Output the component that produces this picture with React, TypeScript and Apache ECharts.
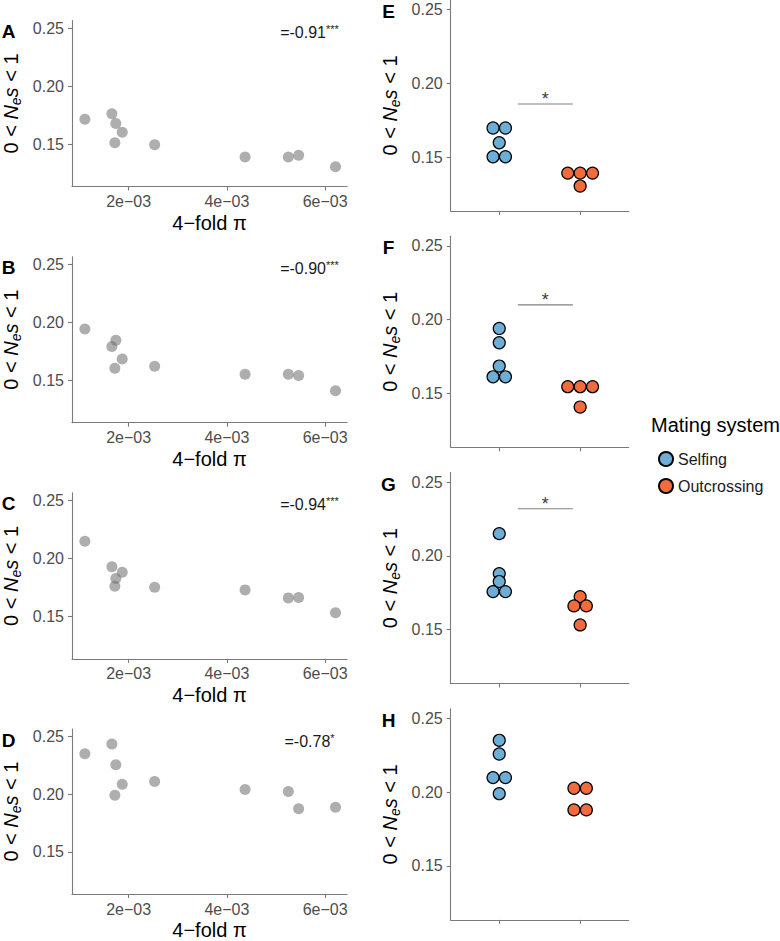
import React, { useEffect, useRef } from 'react';
import * as echarts from 'echarts';

// ---------- data ----------
const piValues = [1.11e-3, 1.66e-3, 1.74e-3, 1.87e-3, 1.72e-3, 2.53e-3, 4.37e-3, 5.25e-3, 5.46e-3, 6.21e-3];
const nesA = [0.1713, 0.1761, 0.1678, 0.1601, 0.1511, 0.1494, 0.1388, 0.1388, 0.1403, 0.1304];
const nesB = [0.1942, 0.179, 0.1845, 0.1684, 0.1603, 0.1621, 0.1552, 0.1552, 0.154, 0.141];
const nesC = [0.2149, 0.1929, 0.1828, 0.188, 0.176, 0.1751, 0.1729, 0.166, 0.1663, 0.1532];
const nesD = [0.2352, 0.2435, 0.2255, 0.2086, 0.1991, 0.2111, 0.204, 0.2023, 0.1874, 0.1886];
const rhoLabels = ['-0.91', '-0.90', '-0.94', '-0.78'];
const rhoStars = ['***', '***', '***', '*'];
const leftTags = ['A', 'B', 'C', 'D'];

const selfingE = [0.1697, 0.1697, 0.1597, 0.1502, 0.1502];
const outcrossE = [0.1391, 0.1391, 0.1391, 0.1303];
const selfingF = [0.194, 0.1843, 0.1685, 0.1612, 0.1612];
const outcrossF = [0.1545, 0.1545, 0.1545, 0.1407];
const selfingG = [0.2151, 0.188, 0.1826, 0.1758, 0.1758];
const outcrossG = [0.1724, 0.1661, 0.1661, 0.1532];
const selfingH = [0.2352, 0.2259, 0.2099, 0.2099, 0.199];
const outcrossH = [0.2027, 0.2027, 0.188, 0.188];
const rightTags = ['E', 'F', 'G', 'H'];
const sigHeights = [0.186, 0.21, 0.232, null];
const sigLabels = ['*', '*', '*', ''];
const sigSpan = [1.23, 1.91];

const yTicks = [0.15, 0.2, 0.25];
const xTicks = [0.002, 0.004, 0.006];
const groupNames = ['Selfing', 'Outcrossing'];
const groupColors = ['#6CAED6', '#F26B3C'];

// ---------- layout ----------
const FONT = 'Liberation Sans, Arial, Helvetica, sans-serif';
const Y_MIN = 0.1134;
const Y_MAX = 0.2565;
const X_MIN = 0.848e-3;
const X_MAX = 6.444e-3;
const L_LEFT = 70, L_W = 277, L_TOP0 = 20.5, L_H = 166, L_STEP = 236.2;
const R_LEFT = 450.7, R_W = 178, R_TOP0 = 0, R_H = 211, R_STEP = 236.3;
const DOT_D = 12.4;
const AXIS_COLOR = '#7a7a7a';
const TICK_TEXT = '#4d4d4d';

const fmtSci = (v: number) => {
  const [m, e] = v.toExponential(0).split('e');
  const n = Math.abs(parseInt(e, 10));
  return m + 'e' + (e[0] === '-' ? '\u2212' : '+') + String(n).padStart(2, '0');
};

const yName = '{n|0 < }{i|N}{sub|e}{i|s}{n| < 1}';
const yNameStyle = {
  rich: {
    n: { fontSize: 20, fontFamily: FONT, color: '#000', lineHeight: 24 },
    i: { fontSize: 20, fontFamily: FONT, fontStyle: 'italic', color: '#000', lineHeight: 24 },
    sub: { fontSize: 14, fontFamily: FONT, fontStyle: 'italic', color: '#000', lineHeight: 12, verticalAlign: 'bottom' },
  },
};

function stackItems(vals: number[], cat: number) {
  const items: any[] = [];
  let i = 0;
  while (i < vals.length) {
    let j = i;
    while (j < vals.length && vals[j] === vals[i]) j++;
    const n = j - i;
    for (let k = 0; k < n; k++) {
      items.push({ value: [cat, vals[i]], symbolOffset: [(k - (n - 1) / 2) * DOT_D, 0] });
    }
    i = j;
  }
  return items;
}

function buildOption() {
  const leftData = [nesA, nesB, nesC, nesD];
  const rightData = [
    [selfingE, outcrossE],
    [selfingF, outcrossF],
    [selfingG, outcrossG],
    [selfingH, outcrossH],
  ];
  const grid: any[] = [];
  const xAxis: any[] = [];
  const yAxis: any[] = [];
  const series: any[] = [];
  const graphic: any[] = [];

  const yAxisBase = (gi: number) => ({
    gridIndex: gi,
    type: 'value',
    min: Y_MIN,
    max: Y_MAX,
    axisLine: { show: true, lineStyle: { color: AXIS_COLOR, width: 1.1 } },
    axisTick: { show: true, customValues: yTicks, length: 4, lineStyle: { color: AXIS_COLOR, width: 1.1 } },
    axisLabel: { customValues: yTicks, formatter: (v: number) => v.toFixed(2), color: TICK_TEXT, fontSize: 16, fontFamily: FONT, margin: 8 },
    splitLine: { show: false },
    name: yName,
    nameLocation: 'middle',
    nameGap: 49,
    nameTextStyle: yNameStyle,
  });

  // left panels
  for (let p = 0; p < 4; p++) {
    const gi = grid.length;
    const top = L_TOP0 + p * L_STEP;
    grid.push({ left: L_LEFT, top, width: L_W, height: L_H });
    xAxis.push({
      gridIndex: gi,
      type: 'value',
      min: X_MIN,
      max: X_MAX,
      axisLine: { show: true, lineStyle: { color: AXIS_COLOR, width: 1.1 } },
      axisTick: { show: true, customValues: xTicks, length: 4, lineStyle: { color: AXIS_COLOR, width: 1.1 } },
      axisLabel: { customValues: xTicks, formatter: fmtSci, color: TICK_TEXT, fontSize: 16, fontFamily: FONT, margin: 7 },
      splitLine: { show: false },
      name: '4\u2212fold \u03c0',
      nameLocation: 'middle',
      nameGap: 26,
      nameTextStyle: { fontSize: 20, fontFamily: FONT, color: '#000', verticalAlign: 'top' },
    });
    yAxis.push(yAxisBase(gi));
    series.push({
      type: 'scatter',
      xAxisIndex: gi,
      yAxisIndex: gi,
      symbol: 'circle',
      symbolSize: 11,
      silent: true,
      itemStyle: { color: 'rgba(110,110,110,0.7)' },
      data: piValues.map((x, k) => [x, leftData[p][k]]),
    });
    graphic.push({
      type: 'text',
      x: 8.5,
      y: top + 11,
      style: { text: leftTags[p], fontSize: 19, fontWeight: 'bold', fontFamily: FONT, fill: '#000', align: 'center', verticalAlign: 'middle' },
    });
    graphic.push({
      type: 'text',
      x: 309.5,
      y: top + 12,
      style: {
        text: '{m|=' + rhoLabels[p] + '}{s|' + rhoStars[p] + '}',
        align: 'center',
        verticalAlign: 'middle',
        rich: {
          m: { fontSize: 16, fontFamily: FONT, fill: '#1a1a1a', lineHeight: 18 },
          s: { fontSize: 11, fontFamily: FONT, fill: '#1a1a1a', lineHeight: 10, verticalAlign: 'top' },
        },
      },
    });
  }

  // right panels
  for (let p = 0; p < 4; p++) {
    const gi = grid.length;
    const top = R_TOP0 + p * R_STEP;
    grid.push({ left: R_LEFT, top, width: R_W, height: R_H });
    xAxis.push({
      gridIndex: gi,
      type: 'value',
      min: 0.4,
      max: 2.6,
      axisLine: { show: true, lineStyle: { color: AXIS_COLOR, width: 1.1 } },
      axisTick: { show: true, customValues: [1, 2], length: 4, lineStyle: { color: AXIS_COLOR, width: 1.1 } },
      axisLabel: { show: false },
      splitLine: { show: false },
    });
    const ya = yAxisBase(gi);
    yAxis.push(ya);
    for (let g = 0; g < 2; g++) {
      series.push({
        type: 'scatter',
        name: groupNames[g],
        xAxisIndex: gi,
        yAxisIndex: gi,
        symbol: 'circle',
        symbolSize: 12,
        silent: true,
        itemStyle: { color: groupColors[g], borderColor: '#000', borderWidth: 1.2, opacity: 1 },
        data: stackItems(rightData[p][g], g + 1),
      });
    }
    const h = sigHeights[p];
    if (h !== null) {
      series.push({
        type: 'line',
        xAxisIndex: gi,
        yAxisIndex: gi,
        silent: true,
        showSymbol: false,
        symbol: 'none',
        lineStyle: { color: '#808080', width: 1.1 },
        data: [[sigSpan[0], h], [sigSpan[1], h]],
      });
      series.push({
        type: 'scatter',
        xAxisIndex: gi,
        yAxisIndex: gi,
        silent: true,
        symbolSize: 1,
        itemStyle: { color: 'rgba(0,0,0,0)' },
        label: { show: true, position: 'inside', formatter: sigLabels[p], fontSize: 18, fontFamily: FONT, color: '#000', offset: [0, -5] },
        data: [[(sigSpan[0] + sigSpan[1]) / 2, h]],
      });
    }
    graphic.push({
      type: 'text',
      x: 388.5,
      y: top + 11.5,
      style: { text: rightTags[p], fontSize: 19, fontWeight: 'bold', fontFamily: FONT, fill: '#000', align: 'center', verticalAlign: 'middle' },
    });
  }

  graphic.push({
    type: 'text',
    x: 651,
    y: 425,
    style: { text: 'Mating system', fontSize: 20, fontFamily: FONT, fill: '#000', align: 'left', verticalAlign: 'middle' },
  });

  return {
    animation: false,
    textStyle: { fontFamily: FONT },
    grid,
    xAxis,
    yAxis,
    series,
    graphic,
    legend: {
      data: groupNames,
      orient: 'vertical',
      left: 653,
      top: 446,
      icon: 'circle',
      itemWidth: 14,
      itemHeight: 14,
      itemGap: 11,
      selectedMode: false,
      textStyle: { fontSize: 16, fontFamily: FONT, color: '#1a1a1a' },
    },
  };
}

export default function App() {
  const ref = useRef<HTMLDivElement>(null);
  useEffect(() => {
    if (!ref.current) return;
    const chart = echarts.init(ref.current, undefined, { renderer: 'svg' });
    chart.setOption(buildOption() as any);
    return () => chart.dispose();
  }, []);
  return (
    <div
      ref={ref}
      style={{ position: 'absolute', left: 0, top: 0, width: 780, height: 941, background: '#fff' }}
    />
  );
}
